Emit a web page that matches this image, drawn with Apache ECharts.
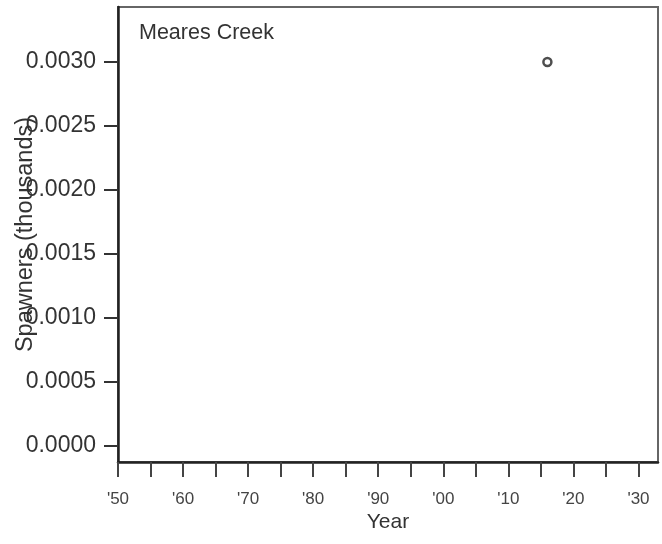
<!DOCTYPE html>
<html><head><meta charset="utf-8">
<script src="https://cdn.jsdelivr.net/npm/echarts@6/dist/echarts.min.js"></script>
<style>html,body{margin:0;padding:0;background:#fff}#c{width:662px;height:544px}</style>
</head><body><div id="c"></div>
<script>
const years = [2016];
const spawners = [0.003];
const xTicks = [1950,1955,1960,1965,1970,1975,1980,1985,1990,1995,2000,2005,2010,2015,2020,2025,2030];
const xLabels = [1950,1960,1970,1980,1990,2000,2010,2020,2030];
const yTicks = [0,0.0005,0.001,0.0015,0.002,0.0025,0.003];
const title = 'Meares Creek';

const font = 'Liberation Sans, Arial, Helvetica, sans-serif';
const chart = echarts.init(document.getElementById('c'));
chart.setOption({
  animation: false,
  graphic: [{type:'text', left:139, top:22, style:{text:title, font:'21.5px '+font, fill:'#333'}}],
  grid: {left:118, top:7, right:4, bottom:82, outerBoundsMode:'none', containLabel:false,
    show:true, borderColor:'#666', borderWidth:2, backgroundColor:'transparent'},
  xAxis: {
    type:'value', min:1950, max:2033,
    name:'Year', nameLocation:'middle', nameGap:50, nameMoveOverlap:false,
    nameTextStyle:{fontSize:21, color:'#333', fontFamily:font},
    axisLine:{show:true, onZero:false, lineStyle:{color:'#222', width:2.5}},
    axisTick:{show:true, customValues:xTicks, length:15, lineStyle:{color:'#444', width:2}},
    axisLabel:{customValues:xLabels, margin:29, fontSize:17, color:'#444', fontFamily:font,
      formatter: v => "'" + String(v).slice(2)},
    splitLine:{show:false}
  },
  yAxis: {
    type:'value', min:-0.000125, max:0.00343,
    name:'Spawners (thousands)', nameLocation:'middle', nameGap:80, nameMoveOverlap:false,
    nameTextStyle:{fontSize:23.5, color:'#333', fontFamily:font},
    axisLine:{show:true, onZero:false, lineStyle:{color:'#222', width:2.5}},
    axisTick:{show:true, customValues:yTicks, length:14, lineStyle:{color:'#333', width:2}},
    axisLabel:{customValues:yTicks, margin:22, fontSize:23, color:'#333', fontFamily:font,
      formatter: v => v.toFixed(4)},
    splitLine:{show:false}
  },
  series: [{
    type:'scatter', data: years.map((y,i)=>[y, spawners[i]]),
    symbol:'circle', symbolSize:8,
    itemStyle:{color:'#fff', borderColor:'#222', borderWidth:2.5}
  }]
});
</script></body></html>
